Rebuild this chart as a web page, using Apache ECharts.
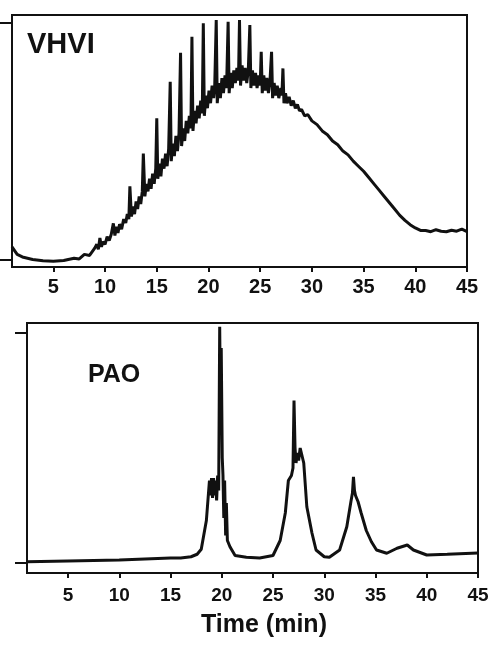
<!DOCTYPE html>
<html>
<head>
	<meta charset="utf-8">
	<title>VHVI / PAO</title>
	<script src="https://cdn.jsdelivr.net/npm/echarts@6/dist/echarts.min.js"></script>
	<style>
		html, body { margin: 0; padding: 0; background: #fff; }
	</style>
</head>
<body>
	<div id="echart" style="width: 494px; height: 652px"></div>
	<script>
		// time ticks (min)
		let timeTicks = [5, 10, 15, 20, 25, 30, 35, 40, 45];

		// VHVI trace: [time, signal], signal in % of panel height
		let vhviPoints = [
			[1, 8], [1.5, 5], [2, 4], [3, 3], [4, 2.5], [5, 2.3], [6, 2.6], [7, 3.5], [7.5, 3.2],
			[8, 5], [8.5, 4.6], [9, 7.5], [9.2, 9], [9.35, 7], [9.5, 11.5], [9.65, 8], [9.8, 10],
			[10, 9], [10.2, 12], [10.4, 10.5], [10.6, 13], [10.8, 17.3], [10.95, 12.5], [11.1, 16],
			[11.25, 13.5], [11.4, 17], [11.6, 15], [11.8, 19], [12, 17.5], [12.15, 21], [12.3, 19],
			[12.4, 32], [12.55, 20], [12.7, 24], [12.85, 21], [13, 26], [13.15, 23], [13.3, 28],
			[13.45, 25], [13.6, 30], [13.7, 45], [13.85, 28], [14, 33], [14.15, 30], [14.3, 35],
			[14.45, 31], [14.6, 37], [14.75, 33], [14.9, 39], [15, 59], [15.1, 35], [15.25, 41],
			[15.4, 36], [15.55, 43], [15.7, 39], [15.85, 45], [16, 40], [16.15, 47], [16.3, 73.5],
			[16.4, 42], [16.55, 49], [16.7, 44], [16.85, 52], [17, 46], [17.15, 53], [17.3, 85],
			[17.4, 48], [17.55, 55], [17.7, 50], [17.85, 58], [18, 53], [18.15, 60], [18.3, 55],
			[18.4, 91.4], [18.5, 54], [18.65, 62], [18.8, 57], [18.95, 64], [19.1, 59], [19.25, 66],
			[19.4, 61], [19.5, 96.7], [19.6, 60], [19.75, 68], [19.9, 63], [20.05, 70], [20.2, 65],
			[20.35, 72], [20.5, 67], [20.6, 71], [20.75, 98], [20.85, 65], [21, 73], [21.15, 67],
			[21.3, 75], [21.45, 69], [21.6, 76], [21.75, 71], [21.9, 97.3], [22, 69], [22.15, 77],
			[22.3, 71], [22.45, 78], [22.6, 73], [22.75, 79], [22.9, 74], [23, 98], [23.1, 72],
			[23.25, 80], [23.4, 74], [23.55, 79], [23.7, 73], [23.85, 78], [24, 96], [24.1, 71],
			[24.25, 78], [24.4, 72], [24.55, 77], [24.7, 71], [24.85, 76], [25, 72], [25.1, 85.4],
			[25.2, 69], [25.35, 76], [25.5, 70], [25.65, 75], [25.8, 69], [25.95, 74], [26.1, 85.4],
			[26.2, 67], [26.35, 73], [26.5, 68], [26.65, 72], [26.8, 67], [27, 71], [27.1, 68],
			[27.2, 78.8], [27.3, 65], [27.45, 69], [27.6, 65], [27.8, 67.5], [28, 64], [28.2, 66],
			[28.4, 63], [28.6, 64.5], [28.8, 62], [29, 62.5], [29.3, 60], [29.6, 60.5], [30, 58],
			[30.5, 56.5], [31, 54], [31.5, 52.5], [32, 50], [32.5, 48.5], [33, 46], [33.5, 44.5],
			[34, 42], [34.5, 40], [35, 38], [35.5, 35.5], [36, 33], [36.5, 30.5], [37, 28],
			[37.5, 25.5], [38, 23], [38.5, 20.5], [39, 18.5], [39.5, 16.8], [40, 15.5], [40.5, 14.5],
			[41, 14.5], [41.5, 14], [42, 14.8], [42.5, 14.2], [43, 14], [43.5, 14.6], [44, 14.2],
			[44.5, 15], [45, 14]
		];

		// PAO trace: [time, signal]
		let paoPoints = [
			[1, 4.5], [5, 4.8], [10, 5.2], [15, 6], [16, 6], [17, 6.5], [17.6, 7.5], [18, 9.5],
			[18.5, 21], [18.8, 37], [18.9, 31], [19, 38], [19.1, 30], [19.2, 38], [19.3, 31],
			[19.4, 37], [19.5, 29], [19.6, 39], [19.7, 33], [19.8, 98.5], [19.88, 62], [19.95, 90],
			[20.05, 46], [20.12, 39], [20.2, 22], [20.28, 37], [20.38, 15], [20.45, 28], [20.55, 13],
			[20.8, 10.5], [21.3, 7], [22.4, 6.3], [23.7, 6], [25, 7], [25.7, 13], [26.2, 24],
			[26.5, 37], [26.8, 39], [26.95, 42], [27.05, 69], [27.15, 50], [27.25, 44], [27.35, 48],
			[27.5, 45], [27.65, 50], [27.8, 50.5], [28, 44], [28.3, 26.5], [28.8, 16], [29.2, 9.2],
			[30, 6.5], [30.5, 6.3], [31.5, 9.2], [32.2, 18.5], [32.6, 28.5], [32.75, 32], [32.85, 38.5],
			[32.95, 33], [33.05, 31], [33.3, 28.5], [33.6, 24], [34.1, 17], [34.6, 12.5], [35.1, 9.2],
			[36.1, 7.9], [37.1, 9.9], [38.1, 11.2], [38.7, 9.2], [40, 7.2], [42, 7.5], [45, 8]
		];

		let vhviYTicks = [3, 97];
		let paoYTicks = [4, 96];

		let ink = '#111';
		let font = '"Liberation Sans", Arial, sans-serif';

		function xAxisFor(gridIndex, fontSize, margin) {
			return {
				gridIndex: gridIndex,
				type: 'value',
				min: 1,
				max: 45,
				axisLine: { show: true, lineStyle: { color: ink, width: 2 } },
				axisTick: { show: true, customValues: timeTicks, length: 5, lineStyle: { color: ink, width: 2 } },
				axisLabel: {
					customValues: timeTicks,
					color: ink,
					fontFamily: font,
					fontWeight: 'bold',
					fontSize: fontSize,
					margin: margin
				},
				splitLine: { show: false }
			};
		}

		function yAxisFor(gridIndex, ticks) {
			return {
				gridIndex: gridIndex,
				type: 'value',
				min: 0,
				max: 100,
				axisLine: { show: true, lineStyle: { color: ink, width: 2 } },
				axisTick: { show: true, customValues: ticks, length: 12, lineStyle: { color: ink, width: 2 } },
				axisLabel: { show: false },
				splitLine: { show: false }
			};
		}

		let mychart = echarts.init(document.getElementById('echart'));
		let option = {
			backgroundColor: '#fff',
			animation: false,
			grid: [
				{ left: 12, right: 27, top: 15, bottom: 385, show: true, borderColor: ink, borderWidth: 2 },
				{ left: 27, right: 16, top: 323, bottom: 79, show: true, borderColor: ink, borderWidth: 2 }
			],
			xAxis: [xAxisFor(0, 20, 10), xAxisFor(1, 19, 13)],
			yAxis: [yAxisFor(0, vhviYTicks), yAxisFor(1, paoYTicks)],
			series: [
				{
					name: 'VHVI',
					type: 'line',
					xAxisIndex: 0,
					yAxisIndex: 0,
					showSymbol: false,
					lineStyle: { color: ink, width: 3 },
					data: vhviPoints
				},
				{
					name: 'PAO',
					type: 'line',
					xAxisIndex: 1,
					yAxisIndex: 1,
					showSymbol: false,
					lineStyle: { color: ink, width: 3 },
					data: paoPoints
				}
			],
			graphic: [
				{
					type: 'text', left: 27, top: 30,
					style: { text: 'VHVI', font: 'bold 29px ' + font, fill: ink }
				},
				{
					type: 'text', left: 88, top: 363,
					style: { text: 'PAO', font: 'bold 25px ' + font, fill: ink }
				},
				{
					type: 'text', x: 264, y: 625,
					style: { text: 'Time (min)', font: 'bold 25px ' + font, fill: ink, align: 'center', verticalAlign: 'middle' }
				}
			]
		};
		mychart.setOption(option);
	</script>
</body>
</html>
